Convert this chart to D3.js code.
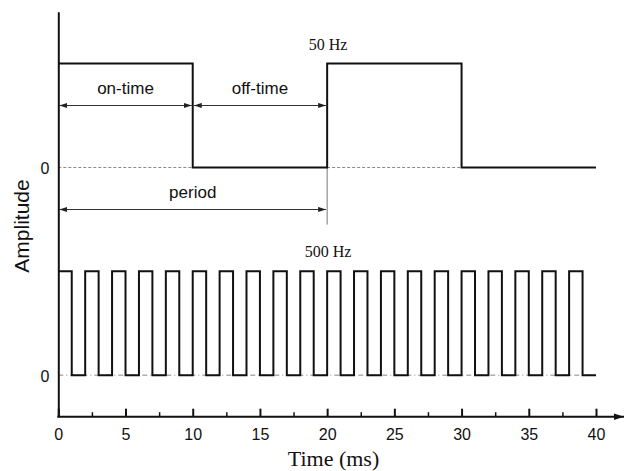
<!DOCTYPE html>
<html>
<head>
<meta charset="utf-8">
<script src="https://cdn.jsdelivr.net/npm/d3@7"></script>
<style>
  html, body { margin: 0; padding: 0; background: #fff; }
  svg { display: block; }
</style>
</head>
<body>
<svg id="chart" width="624" height="471"></svg>
<script>
// ---- data ----
const majorTicks = [0, 5, 10, 15, 20, 25, 30, 35, 40];
const minorTicks = [2.5, 7.5, 12.5, 17.5, 22.5, 27.5, 32.5, 37.5];
const zeroLabels = ["0", "0"];
// 50 Hz signal: step points (time ms, level)
const times50 = [0, 10, 20, 30, 40];
const levels50 = [1, 0, 1, 0, 0];
// 500 Hz signal: step points (time ms, level)
const times500 = [0, 1, 2, 3, 4, 5, 6, 7, 8, 9, 10, 11, 12, 13, 14, 15, 16, 17, 18, 19,
                  20, 21, 22, 23, 24, 25, 26, 27, 28, 29, 30, 31, 32, 33, 34, 35, 36, 37, 38, 39, 40];
const levels500 = [1, 0, 1, 0, 1, 0, 1, 0, 1, 0, 1, 0, 1, 0, 1, 0, 1, 0, 1, 0,
                   1, 0, 1, 0, 1, 0, 1, 0, 1, 0, 1, 0, 1, 0, 1, 0, 1, 0, 1, 0, 0];
const signalLabels = ["50 Hz", "500 Hz"];
const annotations = [
  { text: "on-time", from: 0, to: 10, level: 2.6 },
  { text: "off-time", from: 10, to: 20, level: 2.6 },
  { text: "period", from: 0, to: 20, level: 1.6 }
];
const xTitle = "Time (ms)";
const yTitle = "Amplitude";

// ---- layout ----
const svg = d3.select("#chart");
const x = d3.scaleLinear().domain([0, 40]).range([58.3, 596]);
const y = d3.scaleLinear().domain([-0.4, 3.5]).range([416.7, 11.7]);
const topOffset = 2, botOffset = 0;

const sans = "'Liberation Sans', Arial, sans-serif";
const serif = "'Liberation Serif', 'Times New Roman', serif";

// arrow marker
const defs = svg.append("defs");
defs.append("marker").attr("id", "arrowEnd")
  .attr("viewBox", "0 0 8 6").attr("refX", 8).attr("refY", 3)
  .attr("markerWidth", 8).attr("markerHeight", 6)
  .attr("markerUnits", "userSpaceOnUse").attr("orient", "auto-start-reverse")
  .append("path").attr("d", "M0,0.4 L8,3 L0,5.6 Z").attr("fill", "#222");
defs.append("marker").attr("id", "axisArrow")
  .attr("viewBox", "0 0 10 8").attr("refX", 10).attr("refY", 4)
  .attr("markerWidth", 10).attr("markerHeight", 8)
  .attr("markerUnits", "userSpaceOnUse").attr("orient", "auto")
  .append("path").attr("d", "M0,0.8 L10,4 L0,7.2 Z").attr("fill", "#111");

// baselines
svg.append("line")
  .attr("x1", x(0)).attr("x2", x(10)).attr("y1", y(topOffset)).attr("y2", y(topOffset))
  .attr("stroke", "#888").attr("stroke-width", 1).attr("stroke-dasharray", "3,2");
svg.append("line")
  .attr("x1", x(20)).attr("x2", x(30)).attr("y1", y(topOffset)).attr("y2", y(topOffset))
  .attr("stroke", "#888").attr("stroke-width", 1).attr("stroke-dasharray", "3,2");
svg.append("line")
  .attr("x1", x(0)).attr("x2", x(40)).attr("y1", y(botOffset)).attr("y2", y(botOffset))
  .attr("stroke", "#888").attr("stroke-width", 1).attr("stroke-dasharray", "5,3,1,3");

// period marker vertical
svg.append("line")
  .attr("x1", x(20)).attr("x2", x(20)).attr("y1", y(topOffset)).attr("y2", y(1.45))
  .attr("stroke", "#777").attr("stroke-width", 1);

// signals
const stepLine = d3.line().curve(d3.curveStepAfter).x(d => x(d[0])).y(d => y(d[1]));
const data50 = times50.map((t, i) => [t, levels50[i] + topOffset]);
const data500 = times500.map((t, i) => [t, levels500[i] + botOffset]);
svg.append("path").datum(data50).attr("d", stepLine)
  .attr("fill", "none").attr("stroke", "#111").attr("stroke-width", 2);
svg.append("path").datum(data500).attr("d", stepLine)
  .attr("fill", "none").attr("stroke", "#111").attr("stroke-width", 2);

// annotations
annotations.forEach(a => {
  svg.append("line")
    .attr("x1", x(a.from) + 1).attr("x2", x(a.to) - 1)
    .attr("y1", Math.round(y(a.level)) + 0.5).attr("y2", Math.round(y(a.level)) + 0.5)
    .attr("stroke", "#333").attr("stroke-width", 1)
    .attr("marker-start", "url(#arrowEnd)").attr("marker-end", "url(#arrowEnd)");
  svg.append("text")
    .attr("x", (x(a.from) + x(a.to)) / 2).attr("y", y(a.level) - 11)
    .attr("text-anchor", "middle").attr("font-family", sans).attr("font-size", 17)
    .attr("fill", "#111").text(a.text);
});

// signal labels
svg.append("text").attr("x", x(20) + 1).attr("y", 50)
  .attr("text-anchor", "middle").attr("font-family", serif).attr("font-size", 16)
  .attr("fill", "#111").text(signalLabels[0]);
svg.append("text").attr("x", x(20) + 1).attr("y", 256.5)
  .attr("text-anchor", "middle").attr("font-family", serif).attr("font-size", 16)
  .attr("fill", "#111").text(signalLabels[1]);

// x axis
const xAxisMajor = d3.axisBottom(x).tickValues(majorTicks).tickFormat(d3.format("d"))
  .tickSizeInner(-8).tickSizeOuter(0).tickPadding(12);
const gx = svg.append("g").attr("transform", `translate(0,${y(-0.4)})`).call(xAxisMajor);
gx.select(".domain").remove();
gx.selectAll(".tick line").attr("stroke", "#111").attr("stroke-width", 2);
gx.selectAll(".tick text").attr("font-family", sans).attr("font-size", 16).attr("fill", "#111");
const xAxisMinor = d3.axisBottom(x).tickValues(minorTicks).tickFormat("")
  .tickSizeInner(-4.5).tickSizeOuter(0);
const gxm = svg.append("g").attr("transform", `translate(0,${y(-0.4)})`).call(xAxisMinor);
gxm.select(".domain").remove();
gxm.selectAll(".tick line").attr("stroke", "#111").attr("stroke-width", 1.5);
svg.append("line")
  .attr("x1", x(0) - 1).attr("x2", 624).attr("y1", y(-0.4)).attr("y2", y(-0.4))
  .attr("stroke", "#111").attr("stroke-width", 2).attr("marker-end", "url(#axisArrow)");

// y axis
const yAxis = d3.axisLeft(y).tickValues([topOffset, botOffset]).tickFormat((d, i) => zeroLabels[i])
  .tickSizeInner(0).tickSizeOuter(0).tickPadding(9);
const gy = svg.append("g").attr("transform", `translate(${x(0)},0)`).call(yAxis);
gy.select(".domain").attr("stroke", "#111").attr("stroke-width", 2);
gy.selectAll(".tick text").attr("font-family", sans).attr("font-size", 16).attr("fill", "#111")
  .attr("dy", "0.4em");

// titles
svg.append("text").attr("transform", "translate(29,226) rotate(-90)")
  .attr("text-anchor", "middle").attr("font-family", sans).attr("font-size", 21)
  .attr("fill", "#111").text(yTitle);
svg.append("text").attr("x", 333.5).attr("y", 466)
  .attr("text-anchor", "middle").attr("font-family", serif).attr("font-size", 22)
  .attr("fill", "#111").text(xTitle);
</script>
</body>
</html>
